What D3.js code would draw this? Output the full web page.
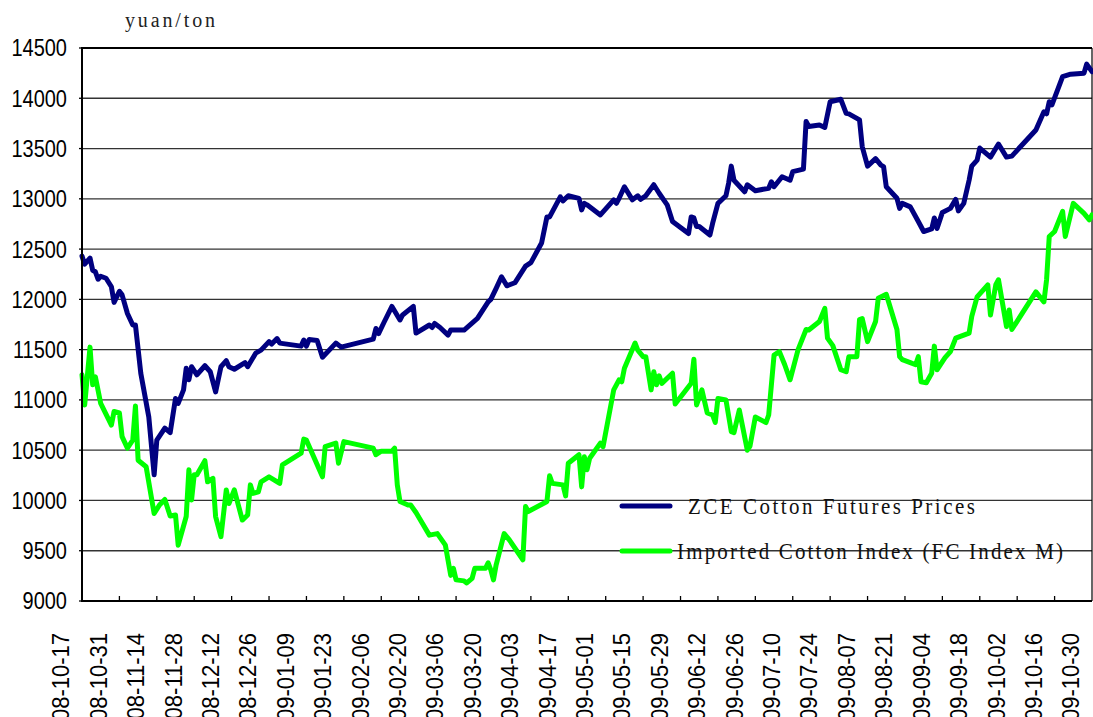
<!DOCTYPE html>
<html>
<head>
<meta charset="utf-8">
<script src="https://cdn.jsdelivr.net/npm/d3@7"></script>
<style>
  body { margin: 0; background: #fff; }
  svg { display: block; }
</style>
</head>
<body>
<svg width="1093" height="717"></svg>
<script>
// ZCE cotton futures prices, yuan/ton
var zceSeries = [
  ["08-10-17",12430],["08-10-18",12350],["08-10-20",12410],["08-10-21",12290],["08-10-22",12275],
  ["08-10-23",12200],["08-10-24",12230],["08-10-26",12210],["08-10-28",12125],["08-10-29",11970],
  ["08-10-31",12080],["08-11-01",12045],["08-11-03",11860],["08-11-05",11745],["08-11-06",11745],
  ["08-11-08",11265],["08-11-11",10830],["08-11-13",10255],["08-11-14",10600],["08-11-17",10720],
  ["08-11-19",10675],["08-11-21",11015],["08-11-22",10965],["08-11-24",11100],["08-11-25",11315],
  ["08-11-26",11200],["08-11-27",11330],["08-11-29",11250],["08-12-02",11340],["08-12-04",11280],
  ["08-12-06",11080],["08-12-08",11330],["08-12-10",11390],["08-12-11",11330],["08-12-13",11305],
  ["08-12-17",11370],["08-12-18",11330],["08-12-21",11465],["08-12-23",11495],["08-12-26",11580],
  ["08-12-27",11555],["08-12-29",11610],["08-12-30",11565],["09-01-07",11535],["09-01-08",11595],
  ["09-01-09",11535],["09-01-10",11600],["09-01-13",11590],["09-01-15",11425],["09-01-20",11565],
  ["09-01-22",11525],["09-02-03",11605],["09-02-04",11710],["09-02-05",11660],["09-02-07",11770],
  ["09-02-10",11930],["09-02-13",11795],["09-02-14",11845],["09-02-18",11930],["09-02-19",11665],
  ["09-02-24",11745],["09-02-25",11720],["09-02-26",11760],["09-02-28",11720],["09-03-03",11645],
  ["09-03-04",11695],["09-03-09",11695],["09-03-14",11810],["09-03-18",11975],["09-03-19",12000],
  ["09-03-21",12110],["09-03-23",12225],["09-03-25",12135],["09-03-28",12165],["09-04-01",12330],
  ["09-04-03",12365],["09-04-07",12560],["09-04-09",12820],["09-04-10",12820],["09-04-14",13020],
  ["09-04-15",12980],["09-04-17",13030],["09-04-21",13005],["09-04-22",12890],["09-04-23",12955],
  ["09-04-24",12940],["09-04-29",12840],["09-05-04",12990],["09-05-05",12955],["09-05-06",13005],
  ["09-05-08",13120],["09-05-11",12990],["09-05-13",13030],["09-05-14",12995],["09-05-16",13030],
  ["09-05-19",13140],["09-05-21",13055],["09-05-24",12940],["09-05-26",12775],["09-06-01",12655],
  ["09-06-02",12820],["09-06-03",12810],["09-06-04",12725],["09-06-05",12725],["09-06-09",12640],
  ["09-06-10",12755],["09-06-12",12955],["09-06-15",13030],["09-06-16",13155],["09-06-17",13325],
  ["09-06-18",13185],["09-06-22",13070],["09-06-23",13140],["09-06-26",13080],["09-07-01",13105],
  ["09-07-02",13170],["09-07-03",13120],["09-07-06",13220],["09-07-09",13185],["09-07-10",13270],
  ["09-07-14",13295],["09-07-15",13770],["09-07-16",13720],["09-07-20",13735],["09-07-22",13710],
  ["09-07-24",13965],["09-07-28",13990],["09-07-30",13850],["09-07-31",13845],["09-08-04",13785],
  ["09-08-05",13520],["09-08-07",13325],["09-08-10",13400],["09-08-12",13335],["09-08-13",13320],
  ["09-08-14",13120],["09-08-18",13005],["09-08-19",12905],["09-08-20",12955],["09-08-23",12920],
  ["09-08-26",12775],["09-08-28",12675],["09-08-31",12700],["09-09-01",12810],["09-09-02",12705],
  ["09-09-04",12865],["09-09-07",12905],["09-09-09",12995],["09-09-10",12880],["09-09-12",12955],
  ["09-09-14",13185],["09-09-15",13325],["09-09-17",13385],["09-09-18",13505],["09-09-22",13415],
  ["09-09-25",13545],["09-09-28",13415],["09-09-30",13425],["09-10-09",13685],["09-10-12",13865],
  ["09-10-13",13845],["09-10-14",13965],["09-10-15",13935],["09-10-19",14215],["09-10-22",14240],
  ["09-10-27",14250],["09-10-28",14340],["09-10-30",14265]
];

// Imported cotton index (FC Index M), yuan/ton
var fcSeries = [
  ["08-10-17",11250],["08-10-18",10950],["08-10-20",11525],["08-10-21",11150],["08-10-22",11230],
  ["08-10-24",10965],["08-10-28",10750],["08-10-29",10885],["08-10-31",10870],["08-11-01",10635],
  ["08-11-03",10520],["08-11-05",10600],["08-11-06",10940],["08-11-07",10400],["08-11-10",10335],
  ["08-11-13",9870],["08-11-15",9955],["08-11-17",10010],["08-11-19",9845],["08-11-21",9855],
  ["08-11-22",9555],["08-11-25",9840],["08-11-26",10305],["08-11-27",10005],["08-11-28",10255],
  ["08-11-29",10255],["08-12-02",10395],["08-12-03",10185],["08-12-05",10220],["08-12-06",9840],
  ["08-12-08",9640],["08-12-10",10105],["08-12-11",9970],["08-12-13",10105],["08-12-16",9805],
  ["08-12-18",9855],["08-12-19",10155],["08-12-20",10070],["08-12-22",10085],["08-12-23",10185],
  ["08-12-26",10235],["08-12-30",10170],["08-12-31",10355],["09-01-07",10470],["09-01-08",10610],
  ["09-01-09",10600],["09-01-15",10235],["09-01-16",10535],["09-01-20",10570],["09-01-21",10370],
  ["09-01-23",10585],["09-02-03",10520],["09-02-04",10455],["09-02-06",10490],["09-02-10",10490],
  ["09-02-11",10520],["09-02-12",10155],["09-02-13",9990],["09-02-16",9955],["09-02-17",9955],
  ["09-02-19",9880],["09-02-24",9655],["09-02-27",9670],["09-03-02",9555],["09-03-04",9255],
  ["09-03-05",9325],["09-03-06",9210],["09-03-09",9200],["09-03-10",9180],["09-03-12",9225],
  ["09-03-13",9325],["09-03-17",9325],["09-03-18",9380],["09-03-19",9310],["09-03-20",9210],
  ["09-03-21",9360],["09-03-24",9670],["09-03-26",9605],["09-03-31",9410],["09-04-01",9940],
  ["09-04-02",9890],["09-04-08",9975],["09-04-09",9990],["09-04-10",10245],["09-04-11",10170],
  ["09-04-15",10155],["09-04-16",10045],["09-04-17",10370],["09-04-21",10455],["09-04-22",10135],
  ["09-04-23",10435],["09-04-24",10305],["09-04-25",10420],["09-04-29",10570],["09-04-30",10535],
  ["09-05-04",11100],["09-05-06",11200],["09-05-07",11180],["09-05-08",11315],["09-05-12",11565],
  ["09-05-13",11495],["09-05-15",11430],["09-05-16",11430],["09-05-18",11100],["09-05-19",11280],
  ["09-05-20",11150],["09-05-21",11240],["09-05-22",11165],["09-05-26",11265],["09-05-27",10960],
  ["09-06-02",11165],["09-06-03",11405],["09-06-04",10950],["09-06-06",11100],["09-06-08",10870],
  ["09-06-10",10850],["09-06-11",10775],["09-06-12",11015],["09-06-15",11000],["09-06-17",10685],
  ["09-06-18",10675],["09-06-20",10900],["09-06-23",10500],["09-06-24",10540],["09-06-26",10830],
  ["09-06-30",10775],["09-07-01",10850],["09-07-03",11445],["09-07-05",11480],["09-07-07",11350],
  ["09-07-09",11200],["09-07-12",11500],["09-07-15",11700],["09-07-16",11695],["09-07-20",11780],
  ["09-07-22",11910],["09-07-23",11615],["09-07-25",11540],["09-07-28",11300],["09-07-30",11280],
  ["09-07-31",11430],["09-08-03",11430],["09-08-04",11800],["09-08-05",11810],["09-08-07",11580],
  ["09-08-10",11780],["09-08-11",12010],["09-08-14",12050],["09-08-18",11700],["09-08-19",11430],
  ["09-08-20",11400],["09-08-23",11370],["09-08-25",11350],["09-08-26",11430],["09-08-27",11180],
  ["09-08-29",11170],["09-08-31",11265],["09-09-01",11535],["09-09-02",11300],["09-09-05",11420],
  ["09-09-07",11480],["09-09-09",11615],["09-09-14",11665],["09-09-15",11830],["09-09-17",12025],
  ["09-09-21",12145],["09-09-22",11845],["09-09-24",12145],["09-09-25",12195],["09-09-28",11730],
  ["09-09-29",11895],["09-09-30",11700],["09-10-09",12075],["09-10-12",11975],["09-10-13",12195],
  ["09-10-14",12625],["09-10-16",12675],["09-10-19",12875],["09-10-20",12625],["09-10-23",12955],
  ["09-10-27",12855],["09-10-29",12790],["09-10-30",12840]
];

var tickLabels = ["08-10-17","08-10-31","08-11-14","08-11-28","08-12-12","08-12-26","09-01-09",
  "09-01-23","09-02-06","09-02-20","09-03-06","09-03-20","09-04-03","09-04-17","09-05-01",
  "09-05-15","09-05-29","09-06-12","09-06-26","09-07-10","09-07-24","09-08-07","09-08-21",
  "09-09-04","09-09-18","09-10-02","09-10-16","09-10-30"];
var yTicks = [9000, 9500, 10000, 10500, 11000, 11500, 12000, 12500, 13000, 13500, 14000, 14500];
var seriesNames = ["ZCE Cotton Futures Prices", "Imported Cotton Index (FC Index M)"];
var seriesColors = ["#000080", "#00ff00"];

var parse = d3.timeParse("%y-%m-%d"),
  plotLeft = 82, plotRight = 1092, plotTop = 48, plotBottom = 601;

var x = d3.scaleTime()
  .domain([parse(tickLabels[0]), parse(tickLabels[tickLabels.length - 1])])
  .range([plotLeft, plotRight]);
var y = d3.scaleLinear().domain([9000, 14500]).range([plotBottom, plotTop]);

var svg = d3.select("svg");

// Horizontal gridlines
svg.append("g")
  .selectAll("line")
  .data(yTicks.slice(1, -1))
  .enter().append("line")
    .attr("x1", plotLeft).attr("x2", plotRight)
    .attr("y1", function(d) { return y(d); })
    .attr("y2", function(d) { return y(d); })
    .attr("stroke", "#333").attr("stroke-width", 1.3);

// Plot frame
svg.append("line").attr("x1", plotLeft).attr("x2", plotRight).attr("y1", plotTop).attr("y2", plotTop)
  .attr("stroke", "#000").attr("stroke-width", 2);
svg.append("line").attr("x1", plotRight).attr("x2", plotRight).attr("y1", plotTop).attr("y2", plotBottom)
  .attr("stroke", "#000").attr("stroke-width", 1.2);

// Y axis labels
svg.append("g")
  .selectAll("text")
  .data(yTicks)
  .enter().append("text")
    .attr("transform", function(d) { return "translate(67," + y(d) + ") scale(1,1.18)"; })
    .attr("text-anchor", "end")
    .attr("dy", "0.36em")
    .style("font-family", "'Liberation Sans', Arial, sans-serif")
    .style("font-size", "20px")
    .attr("fill", "#000")
    .text(function(d) { return d; });

svg.append("g")
  .selectAll("line")
  .data(yTicks)
  .enter().append("line")
    .attr("x1", plotLeft - 3).attr("x2", plotLeft)
    .attr("y1", function(d) { return y(d); })
    .attr("y2", function(d) { return y(d); })
    .attr("stroke", "#000").attr("stroke-width", 1.3);

// X axis ticks (inside) and rotated labels
svg.append("g")
  .selectAll("line")
  .data(tickLabels.slice(1, -1))
  .enter().append("line")
    .attr("x1", function(d) { return x(parse(d)); })
    .attr("x2", function(d) { return x(parse(d)); })
    .attr("y1", plotBottom - 5).attr("y2", plotBottom)
    .attr("stroke", "#000").attr("stroke-width", 1.3);

svg.append("g")
  .selectAll("text")
  .data(tickLabels)
  .enter().append("text")
    .attr("transform", function(d) {
      return "translate(" + (x(parse(d)) - 21) + ",633) rotate(-90) scale(1,1.05)";
    })
    .attr("text-anchor", "end")
    .attr("dy", "0.36em")
    .style("font-family", "'Liberation Sans', Arial, sans-serif")
    .style("font-size", "22px")
    .attr("fill", "#000")
    .text(function(d) { return d; });

// Series lines
var line = d3.line()
  .x(function(d) { return x(parse(d[0])); })
  .y(function(d) { return y(d[1]); });

[zceSeries, fcSeries].forEach(function(s, i) {
  svg.append("path")
    .datum(s)
    .attr("d", line)
    .attr("fill", "none")
    .attr("stroke", seriesColors[i])
    .attr("stroke-width", 5)
    .attr("stroke-linejoin", "round")
    .attr("stroke-linecap", "round");
});

// Left and bottom axis lines on top
svg.append("line").attr("x1", plotLeft).attr("x2", plotLeft).attr("y1", plotTop - 1).attr("y2", plotBottom + 1)
  .attr("stroke", "#000").attr("stroke-width", 2);
svg.append("line").attr("x1", plotLeft).attr("x2", plotRight).attr("y1", plotBottom).attr("y2", plotBottom)
  .attr("stroke", "#000").attr("stroke-width", 2);

// Unit label (fixed-pitch serif look, like the original SimSun text)
svg.append("text")
  .attr("transform", "translate(125,27) scale(1,1.08)")
  .attr("textLength", 90)
  .attr("lengthAdjust", "spacing")
  .style("font-family", "'Liberation Serif', 'Times New Roman', serif")
  .style("font-size", "20px")
  .attr("fill", "#222")
  .text("yuan/ton");

// Legend
var legend = svg.append("g")
  .selectAll("g")
  .data(seriesNames)
  .enter().append("g")
    .attr("transform", function(d, i) { return "translate(0," + (506 + i * 45) + ")"; });

legend.append("line")
  .attr("x1", 622).attr("x2", 670)
  .attr("stroke", function(d, i) { return seriesColors[i]; })
  .attr("stroke-width", 5)
  .attr("stroke-linecap", "round");

legend.append("text")
  .attr("transform", function(d, i) {
    return "translate(" + (i === 0 ? 688 : 677) + ",0) scale(1,1.1)";
  })
  .attr("dy", "0.35em")
  .attr("textLength", function(d, i) { return i === 0 ? 287 : 386; })
  .attr("lengthAdjust", "spacing")
  .style("font-family", "'Liberation Serif', 'Times New Roman', serif")
  .style("font-size", "21px")
  .attr("fill", "#111")
  .text(function(d) { return d; });
</script>
</body>
</html>
